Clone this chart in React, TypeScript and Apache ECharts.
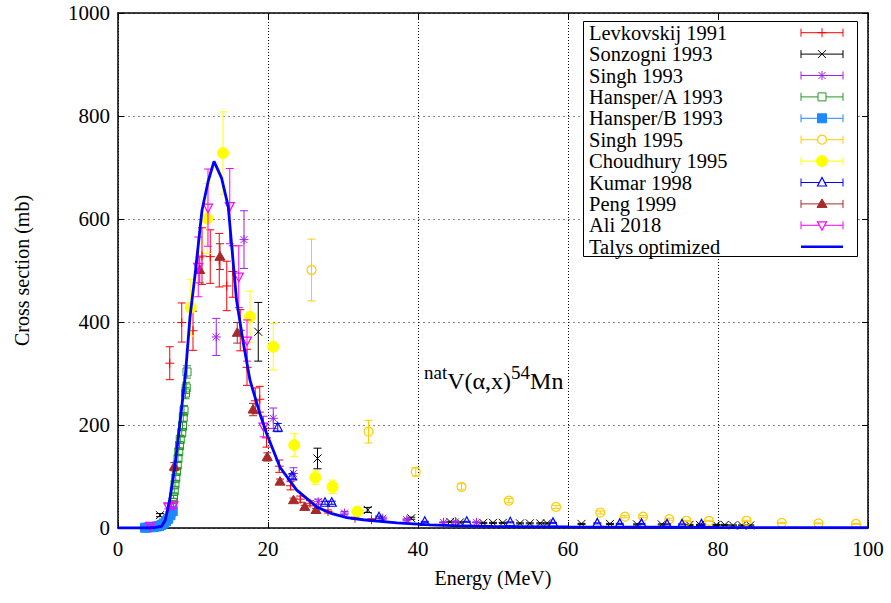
import React, { useEffect, useRef } from "react";
import * as echarts from "echarts";

const FONT = "Liberation Serif";

// ---- axis ticks ----
const xTickStep = 20;
const yTickStep = 200;

// ---- experimental data: [energy MeV, cross section mb, error mb] ----
const levkovskij1991 = [
  [6.9, 320, 32], [8.5, 399, 38], [10.0, 383, 38], [11.2, 528, 55], [12.3, 527, 52],
  [13.5, 520, 52], [14.5, 470, 48], [15.3, 498, 50], [16.3, 384, 40], [17.2, 312, 35],
  [18.3, 247, 25], [18.9, 250, 25], [19.8, 175, 18], [21.5, 120, 12], [23.0, 82, 8],
  [24.3, 56, 6], [25.6, 48, 5], [28.0, 32, 3], [31.6, 19, 2], [33.8, 16, 2],
];
const sonzogni1993 = [
  [5.6, 25, 3], [18.7, 381, 57], [26.6, 135, 20], [33.3, 35, 5], [39.1, 19, 2],
  [44.3, 12, 1], [45.6, 11, 1], [48.7, 10, 1], [50.0, 10, 1], [51.3, 10, 1],
  [53.6, 9, 1], [54.9, 9, 1], [56.3, 9, 1], [57.2, 9, 1], [61.8, 8, 1],
  [65.6, 8, 1], [69.2, 7, 1], [72.5, 7, 1], [76.2, 6, 1], [77.6, 6, 1],
  [79.8, 6, 1], [80.9, 6, 1], [82.0, 5, 1], [83.2, 5, 1], [84.3, 5, 1],
];
const singh1993 = [
  [13.1, 371, 36], [16.8, 560, 56], [20.7, 213, 20], [23.4, 106, 11], [26.7, 51, 5],
  [30.2, 29, 3], [35.3, 19, 2], [38.5, 16, 2], [43.4, 11, 1], [45.0, 12, 1], [47.8, 11, 1],
];
const hansperA1993 = [
  [7.1, 30, 2], [7.2, 40, 2], [7.3, 50, 3], [7.4, 60, 3], [7.5, 72, 4], [7.6, 85, 4],
  [7.7, 97, 5], [7.8, 110, 5], [7.9, 122, 6], [8.0, 135, 6], [8.1, 148, 7], [8.2, 160, 7],
  [8.3, 172, 8], [8.5, 185, 8], [8.6, 198, 9], [8.7, 215, 9], [8.8, 228, 10], [9.0, 262, 11],
  [9.1, 272, 11], [9.2, 303, 12],
];
const hansperB1993 = [
  [3.6, 0.5, 0], [4.0, 1, 0], [4.4, 1.5, 0], [4.8, 2, 0], [5.2, 3, 0], [5.5, 4, 0],
  [5.8, 6, 1], [6.1, 9, 1], [6.4, 13, 1], [6.7, 18, 2], [7.0, 25, 2], [7.3, 33, 3],
];
const singh1995 = [
  [25.8, 501, 60], [33.4, 187, 22], [39.7, 109, 8], [45.8, 80, 6], [52.1, 53, 4],
  [58.4, 41, 3], [64.3, 30, 3], [67.6, 22, 2], [70.0, 22, 2], [73.5, 17, 2],
  [75.8, 14, 1], [78.8, 14, 1], [83.8, 14, 1], [88.5, 10, 1], [93.4, 9, 1], [98.4, 8, 1],
];
const choudhury1995 = [
  [9.7, 428, 55], [11.9, 601, 68], [14.0, 728, 80], [17.6, 410, 50], [20.7, 352, 45],
  [23.5, 161, 22], [26.3, 98, 13], [28.6, 80, 13], [31.9, 32, 3],
];
const kumar1998 = [
  [21.3, 195, 8], [23.2, 100, 5], [27.6, 49, 3], [28.5, 49, 3], [34.8, 21, 2],
  [40.9, 12, 1], [46.5, 12, 1], [52.3, 11, 1], [58.0, 10, 1], [63.9, 9, 1],
  [66.9, 8, 1], [69.8, 8, 1], [73.2, 7, 1], [75.2, 7, 1], [77.8, 7, 1],
];
const peng1999 = [
  [7.5, 119, 8], [10.9, 501, 25], [13.6, 527, 25], [15.9, 379, 20], [18.0, 230, 12],
  [19.9, 138, 8], [21.6, 90, 5], [23.4, 54, 4], [24.9, 41, 3], [26.4, 35, 3],
];
const ali2018 = [
  [4.3, 4, 2], [6.7, 42, 5], [7.4, 44, 5], [10.7, 507, 58], [12.0, 622, 75],
  [14.9, 625, 73], [16.1, 488, 60], [17.2, 364, 40], [19.4, 197, 20],
];

// ---- TALYS curve ----
const talysEnergy = [
  0, 4, 5, 5.8, 6.3, 6.9, 7.5, 8.0, 8.5, 9.0, 9.6, 10.3, 11.2, 12.0, 12.8, 13.8, 14.7,
  15.8, 16.7, 17.6, 18.9, 19.8, 21.6, 23.8, 26.5, 28.3, 30.5, 32.7, 37.2, 41.6, 45.6,
  50, 60, 70, 80, 90, 100,
];
const talysSigma = [
  0, 0, 1, 3, 15, 55, 110, 170, 235, 300, 410, 495, 617, 672, 712, 680, 624,
  443, 360, 287, 223, 184, 118, 74, 41, 29, 20, 16, 10, 6, 4,
  3, 2, 1.5, 1, 0.8, 0.5,
];

type Kind =
  | "plus" | "cross" | "star" | "square" | "squareFill"
  | "circle" | "circleFill" | "tri" | "triFill" | "triDown";

const datasets: { name: string; data: number[][]; color: string; kind: Kind }[] = [
  { name: "Levkovskij 1991", data: levkovskij1991, color: "#ff0000", kind: "plus" },
  { name: "Sonzogni 1993", data: sonzogni1993, color: "#000000", kind: "cross" },
  { name: "Singh 1993", data: singh1993, color: "#a020f0", kind: "star" },
  { name: "Hansper/A 1993", data: hansperA1993, color: "#239a23", kind: "square" },
  { name: "Hansper/B 1993", data: hansperB1993, color: "#1e88ff", kind: "squareFill" },
  { name: "Singh 1995", data: singh1995, color: "#ffcc00", kind: "circle" },
  { name: "Choudhury 1995", data: choudhury1995, color: "#ffff00", kind: "circleFill" },
  { name: "Kumar 1998", data: kumar1998, color: "#0000ff", kind: "tri" },
  { name: "Peng 1999", data: peng1999, color: "#a52a2a", kind: "triFill" },
  { name: "Ali 2018", data: ali2018, color: "#ff00ff", kind: "triDown" },
];

function lineEl(x1: number, y1: number, x2: number, y2: number, color: string, w = 1, z?: number) {
  const el: any = { type: "line", shape: { x1, y1, x2, y2 }, style: { stroke: color, lineWidth: w } };
  if (z !== undefined) el.z = z;
  return el;
}

function markerEls(kind: Kind, cx: number, cy: number, color: string, openFill = "none", z?: number): any[] {
  const add = (el: any) => { if (z !== undefined) el.z = z; return el; };
  const s = 4.5;
  switch (kind) {
    case "plus":
      return [lineEl(cx - s, cy, cx + s, cy, color, 1, z), lineEl(cx, cy - s, cx, cy + s, color, 1, z)];
    case "cross":
      return [lineEl(cx - 4, cy - 4, cx + 4, cy + 4, color, 1, z), lineEl(cx - 4, cy + 4, cx + 4, cy - 4, color, 1, z)];
    case "star":
      return [
        lineEl(cx - s, cy, cx + s, cy, color, 1, z), lineEl(cx, cy - s, cx, cy + s, color, 1, z),
        lineEl(cx - 3.5, cy - 3.5, cx + 3.5, cy + 3.5, color, 1, z), lineEl(cx - 3.5, cy + 3.5, cx + 3.5, cy - 3.5, color, 1, z),
      ];
    case "square":
      return [add({ type: "rect", shape: { x: cx - 4, y: cy - 4, width: 8, height: 8 }, style: { fill: openFill, stroke: color, lineWidth: 1 } })];
    case "squareFill":
      return [add({ type: "rect", shape: { x: cx - 4.5, y: cy - 4.5, width: 9, height: 9 }, style: { fill: color, stroke: color, lineWidth: 1 } })];
    case "circle":
      return [add({ type: "circle", shape: { cx, cy, r: 4.5 }, style: { fill: openFill, stroke: color, lineWidth: 1.2 } })];
    case "circleFill":
      return [add({ type: "circle", shape: { cx, cy, r: 5.5 }, style: { fill: color, stroke: color, lineWidth: 1 } })];
    case "tri":
      return [add({ type: "polygon", shape: { points: [[cx, cy - 5], [cx + 4.5, cy + 3.5], [cx - 4.5, cy + 3.5]] }, style: { fill: openFill, stroke: color, lineWidth: 1.2 } })];
    case "triFill":
      return [add({ type: "polygon", shape: { points: [[cx, cy - 5], [cx + 5, cy + 3.5], [cx - 5, cy + 3.5]] }, style: { fill: color, stroke: color, lineWidth: 1 } })];
    case "triDown":
      return [add({ type: "polygon", shape: { points: [[cx, cy + 5], [cx + 4.5, cy - 3.5], [cx - 4.5, cy - 3.5]] }, style: { fill: openFill, stroke: color, lineWidth: 1.2 } })];
  }
  return [];
}

function buildSeries(): any[] {
  const out: any[] = datasets.map((d) => ({
    type: "custom",
    name: d.name,
    data: d.data,
    encode: { x: 0, y: 1 },
    renderItem: (_params: any, api: any) => {
      const e = api.value(0);
      const v = api.value(1);
      const err = api.value(2);
      const c = api.coord([e, v]);
      const children: any[] = [];
      if (err > 0) {
        const t = api.coord([e, v + err]);
        const b = api.coord([e, v - err]);
        const cap = 4;
        children.push(lineEl(c[0], t[1], c[0], b[1], d.color, 1));
        children.push(lineEl(c[0] - cap, t[1], c[0] + cap, t[1], d.color, 1));
        children.push(lineEl(c[0] - cap, b[1], c[0] + cap, b[1], d.color, 1));
      }
      children.push(...markerEls(d.kind, c[0], c[1], d.color));
      return { type: "group", children };
    },
  }));
  out.push({
    type: "line",
    name: "Talys optimized",
    data: talysEnergy.map((e, i) => [e, talysSigma[i]]),
    showSymbol: false,
    lineStyle: { color: "#0000ff", width: 2.8 },
    itemStyle: { color: "#0000ff" },
    z: 5,
  });
  return out;
}

function buildLegend(): any[] {
  const els: any[] = [];
  els.push({
    type: "rect", z: 50,
    shape: { x: 583.5, y: 21.5, width: 274, height: 235 },
    style: { fill: "#ffffff", stroke: "#000000", lineWidth: 1 },
  });
  const rowY = (i: number) => 32.7 + i * 21.4;
  const names = [...datasets.map((d) => d.name), "Talys optimized"];
  names.forEach((n, i) => {
    els.push({
      type: "text", z: 51, x: 589, y: rowY(i),
      style: { text: n, fontFamily: FONT, fontSize: 20.5, fill: "#000", verticalAlign: "middle", align: "left" },
    });
  });
  datasets.forEach((d, i) => {
    const cy = rowY(i);
    els.push(lineEl(801, cy, 843, cy, d.color, 1, 51));
    els.push(lineEl(801, cy - 4, 801, cy + 4, d.color, 1, 51));
    els.push(lineEl(843, cy - 4, 843, cy + 4, d.color, 1, 51));
    els.push(...markerEls(d.kind, 822, cy, d.color, "#ffffff", 52));
  });
  els.push(lineEl(801, rowY(10), 843, rowY(10), "#0000ff", 2.5, 51));
  return els;
}

function buildAnnotation(): any {
  return {
    type: "text", z: 60, x: 424, y: 363,
    style: {
      text: "{s|nat}{b|V(α,x)}{s|54}{b|Mn}",
      align: "left",
      verticalAlign: "top",
      fontFamily: FONT,
      rich: {
        s: { fontSize: 19, lineHeight: 14, verticalAlign: "top", fontFamily: FONT, fill: "#000", color: "#000" },
        b: { fontSize: 24, lineHeight: 30, verticalAlign: "bottom", fontFamily: FONT, fill: "#000", color: "#000" },
      },
    },
  };
}

export default function App() {
  const ref = useRef<HTMLDivElement>(null);
  useEffect(() => {
    if (!ref.current) return;
    const chart = echarts.init(ref.current, undefined, { renderer: "svg" });
    const tick = { inside: true, length: 6, lineStyle: { color: "#000", width: 1 } };
    const axisLine = { onZero: false, lineStyle: { color: "#000", width: 1.5 } };
    const label = { fontFamily: FONT, fontSize: 21, color: "#000" };
    chart.setOption({
      animation: false,
      textStyle: { fontFamily: FONT },
      grid: { left: 118, right: 23, top: 13, bottom: 75 },
      xAxis: [
        {
          type: "value", min: 0, max: 100, interval: xTickStep,
          name: "Energy (MeV)", nameLocation: "middle", nameGap: 40,
          nameTextStyle: { fontFamily: FONT, fontSize: 20, color: "#000" },
          axisLine, axisTick: tick,
          axisLabel: { ...label, margin: 10, formatter: (v: number) => String(v) },
          splitLine: { show: true, lineStyle: { type: [1, 2], color: "#000", width: 1 } },
        },
        {
          type: "value", position: "top", min: 0, max: 100, interval: xTickStep,
          axisLine, axisTick: tick, axisLabel: { show: false }, splitLine: { show: false },
        },
      ],
      yAxis: [
        {
          type: "value", min: 0, max: 1000, interval: yTickStep,
          name: "Cross section (mb)", nameLocation: "middle", nameGap: 86,
          nameTextStyle: { fontFamily: FONT, fontSize: 20, color: "#000" },
          axisLine, axisTick: tick,
          axisLabel: { ...label, margin: 8, formatter: (v: number) => String(v) },
          splitLine: { show: true, lineStyle: { type: [2, 3], color: "#888", width: 1.2 } },
        },
        {
          type: "value", position: "right", min: 0, max: 1000, interval: yTickStep,
          axisLine, axisTick: tick, axisLabel: { show: false }, splitLine: { show: false },
        },
      ],
      series: buildSeries(),
      graphic: { elements: [...buildLegend(), buildAnnotation()] },
    });
    return () => chart.dispose();
  }, []);
  return (
    <div
      ref={ref}
      style={{ position: "fixed", left: 0, top: 0, width: 891, height: 603, background: "#fff" }}
    />
  );
}
